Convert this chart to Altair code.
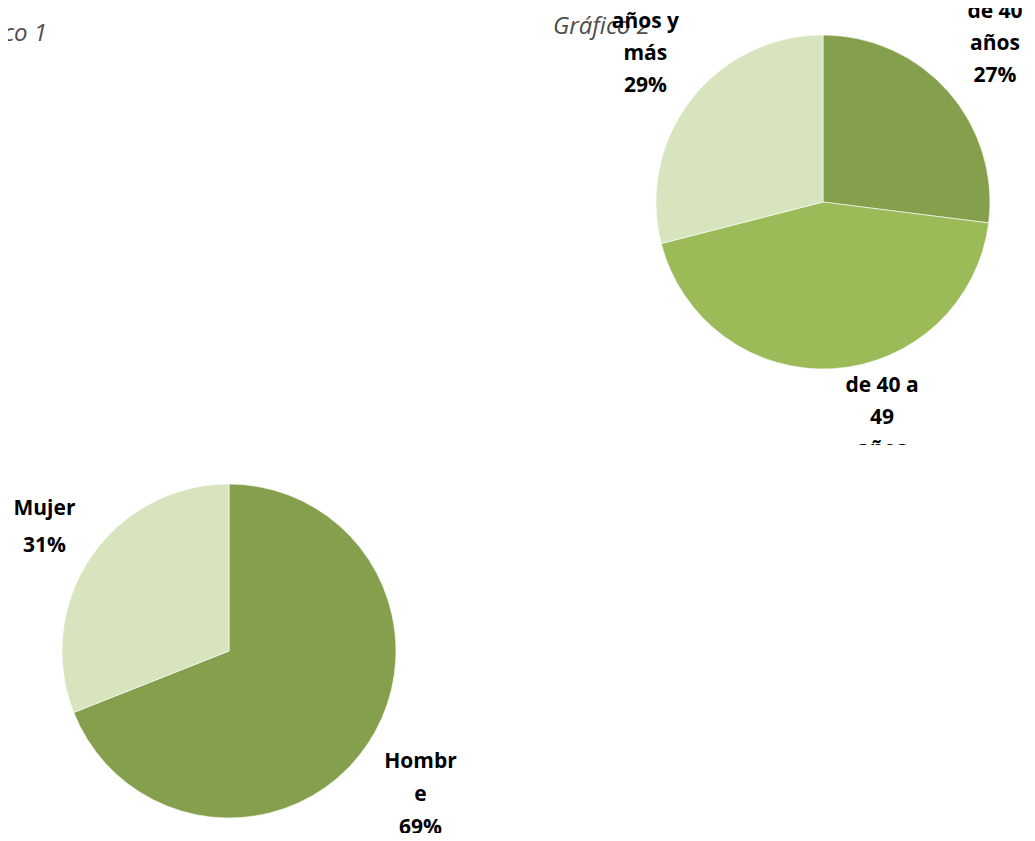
import altair as alt
import pandas as pd

# ---- Gráfico 1: sexo ----
sexo_cats = ["Hombre", "Mujer"]
sexo_vals = [69, 31]
sexo_labels = ["Hombr\ne\n69%", "Mujer\n31%"]

# ---- Gráfico 2: edad ----
edad_cats = ["menos de 40 años", "de 40 a 49 años", "50 años y más"]
edad_vals = [27, 44, 29]
edad_labels = ["menos\nde 40\naños\n27%", "de 40 a\n49\naños\n44%", "50\naños y\nmás\n29%"]

titles = ["Gráfico 1", "Gráfico 2"]

DARK = "#84A04C"
MID = "#9BBB59"
LIGHT = "#D7E4BD"

df1 = pd.DataFrame({"cat": sexo_cats, "val": sexo_vals, "label": sexo_labels,
                    "idx": list(range(len(sexo_cats)))})
df2 = pd.DataFrame({"cat": edad_cats, "val": edad_vals, "label": edad_labels,
                    "idx": list(range(len(edad_cats)))})

LABEL_FONT = dict(font="Open Sans", fontSize=21, fontWeight="bold", color="#000000",
                  align="center", baseline="middle", lineBreak="\n", clip=True)


def pie_layers(df, colors, cx, cy, offsets, line_heights):
    base = alt.Chart(df).encode(
        theta=alt.Theta("val:Q", stack=True),
        order=alt.Order("idx:Q"),
    )
    arcs = base.mark_arc(radius=167, stroke="#ffffff", strokeWidth=0.6).encode(
        color=alt.Color("cat:N", scale=alt.Scale(domain=list(df["cat"]), range=colors),
                        legend=None),
        x=alt.value(cx),
        y=alt.value(cy),
    )
    layers = [arcs]
    for cat, lbl, (dx, dy), lh in zip(df["cat"], df["label"], offsets, line_heights):
        n_lines = lbl.count("\n") + 1
        t = base.mark_text(radius=240, dx=dx, dy=dy - (n_lines - 1) * lh / 2,
                           lineHeight=lh, **LABEL_FONT).encode(
            detail="cat:N",
            text=alt.condition(alt.datum.cat == cat, "label:N", alt.value("")),
            x=alt.value(cx),
            y=alt.value(cy),
        )
        layers.append(t)
    return layers


def title_text(txt, x, y, align):
    return alt.Chart(pd.DataFrame({"t": [txt]})).mark_text(
        font="Open Sans", fontSize=24, fontStyle="italic", color="#4d4d4d",
        align=align, baseline="middle", clip=True,
    ).encode(text="t:N", x=alt.value(x), y=alt.value(y))


row1_layers = pie_layers(df2, [DARK, MID, LIGHT], 815, 194,
                         [(-8, -15), (44, -8), (12, -17)], [32, 32, 32])
row1 = alt.layer(
    title_text(titles[0], 39, 26, "right"),
    title_text(titles[1], 545, 19, "left"),
    *row1_layers,
).properties(width=1019, height=437)

row2_layers = pie_layers(df1, [DARK, LIGHT], 221, 206,
                         [(-7, 9), (14, 11)], [33, 37])
row2 = alt.layer(*row2_layers).properties(width=1019, height=388)

chart = alt.vconcat(row1, row2, spacing=0).properties(
    padding=0, bounds="flush", background="#ffffff"
).resolve_scale(color="independent").configure_view(strokeWidth=0)

chart.save("out.html", embed_options={"renderer": "svg", "actions": False})
